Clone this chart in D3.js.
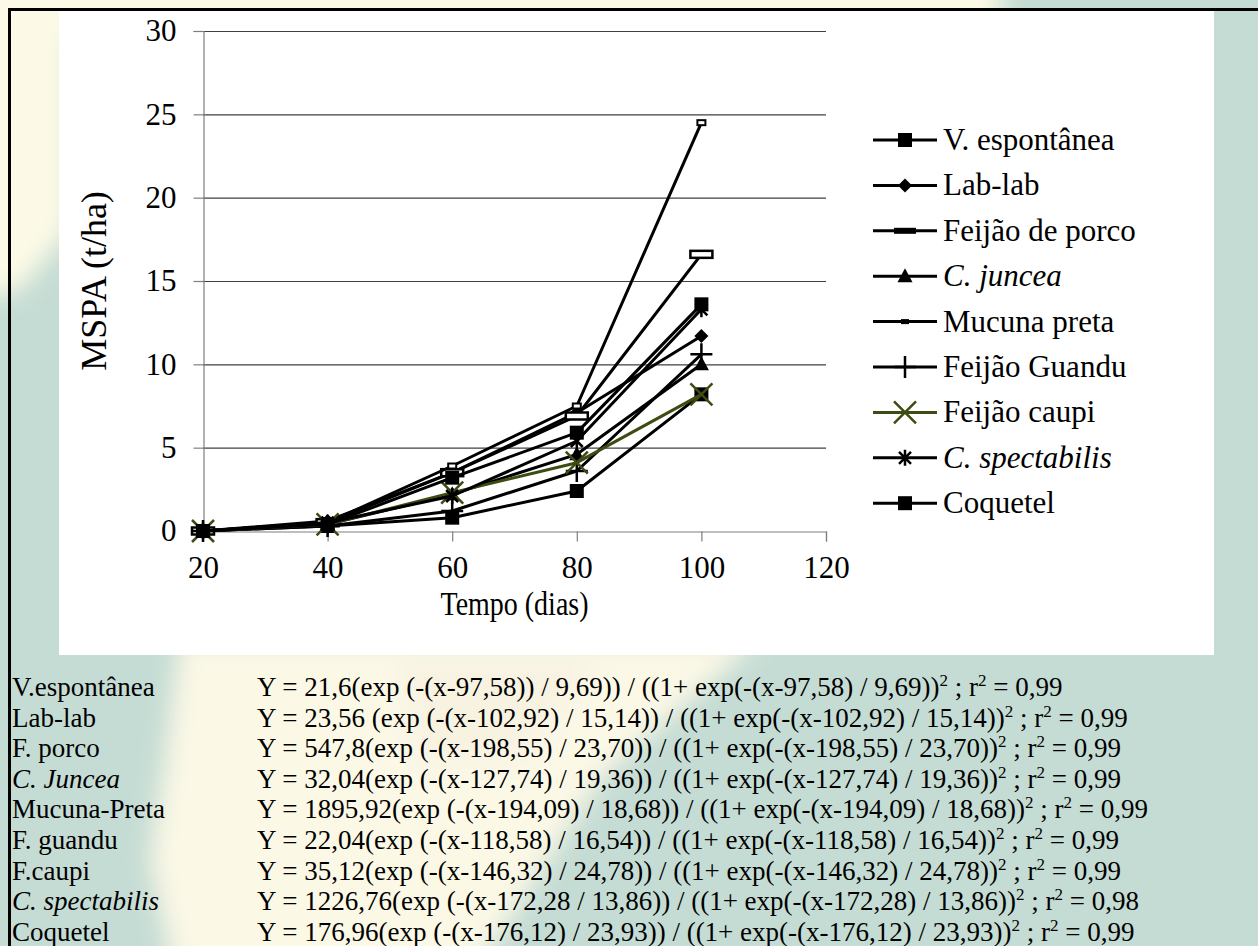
<!DOCTYPE html>
<html>
<head>
<meta charset="utf-8">
<title>MSPA</title>
<script src="https://cdn.jsdelivr.net/npm/d3@7"></script>
<style>
    body { margin: 0; }
    svg text { font-family: "Liberation Serif", "Times New Roman", serif; fill: #000; }
</style>
</head>
<body>
<svg id="chart" width="1258" height="946"></svg>
<script>
// days after sowing
const dias = [20, 40, 60, 80, 100];

// MSPA (t/ha)
const vEspontanea   = [0, 0.3, 0.8, 2.4, 8.2];
const labLab        = [0, 0.6, 3.5, 7.1, 11.7];
const feijaoPorco   = [0, 0.5, 3.5, 6.9, 16.6];
const cJuncea       = [0, 0.4, 2.2, 4.6, 10.0];
const mucunaPreta   = [0, 0.5, 3.9, 7.5, 24.5];
const feijaoGuandu  = [0, 0.3, 1.2, 3.6, 10.6];
const feijaoCaupi   = [0, 0.4, 2.3, 4.1, 8.2];
const cSpectabilis  = [0, 0.5, 2.1, 5.4, 13.3];
const coquetel      = [0, 0.4, 3.2, 5.9, 13.6];

const seriesNames = ["V. espontânea", "Lab-lab", "Feijão de porco", "C. juncea", "Mucuna preta",
    "Feijão Guandu", "Feijão caupi", "C. spectabilis", "Coquetel"];

const xTicks = [20, 40, 60, 80, 100, 120];
const yTicks = [0, 5, 10, 15, 20, 25, 30];

const eqLabels = ["V.espontânea", "Lab-lab", "F. porco", "C. Juncea", "Mucuna-Preta",
    "F. guandu", "F.caupi", "C. spectabilis", "Coquetel"];
const eqTexts = [
    "Y = 21,6(exp (-(x-97,58)) / 9,69)) / ((1+ exp(-(x-97,58) / 9,69))² ; r² = 0,99",
    "Y = 23,56 (exp (-(x-102,92) / 15,14)) / ((1+ exp(-(x-102,92) / 15,14))² ; r² = 0,99",
    "Y = 547,8(exp (-(x-198,55) / 23,70)) / ((1+ exp(-(x-198,55) / 23,70))² ; r² = 0,99",
    "Y = 32,04(exp (-(x-127,74) / 19,36)) / ((1+ exp(-(x-127,74) / 19,36))² ; r² = 0,99",
    "Y = 1895,92(exp (-(x-194,09) / 18,68)) / ((1+ exp(-(x-194,09) / 18,68))² ; r² = 0,99",
    "Y = 22,04(exp (-(x-118,58) / 16,54)) / ((1+ exp(-(x-118,58) / 16,54))² ; r² = 0,99",
    "Y = 35,12(exp (-(x-146,32) / 24,78)) / ((1+ exp(-(x-146,32) / 24,78))² ; r² = 0,99",
    "Y = 1226,76(exp (-(x-172,28 / 13,86)) / ((1+ exp(-(x-172,28) / 13,86))² ; r² = 0,98",
    "Y = 176,96(exp (-(x-176,12) / 23,93)) / ((1+ exp(-(x-176,12) / 23,93))² ; r² = 0,99"
];

const seriesValues = [vEspontanea, labLab, feijaoPorco, cJuncea, mucunaPreta,
    feijaoGuandu, feijaoCaupi, cSpectabilis, coquetel];
const markerTypes = ["square", "diamond", "openrect", "triangle", "dash", "plus", "cross", "star", "square"];
const italicNames = ["C. juncea", "C. spectabilis", "C. Juncea"];

const serif = "'Liberation Serif','Times New Roman',serif";
const svg = d3.select("#chart");

// --- background (watercolour map behind the slide) ---
const defs = svg.append("defs");
defs.append("filter").attr("id", "soft").attr("x", "-20%").attr("y", "-20%").attr("width", "140%").attr("height", "140%")
    .append("feGaussianBlur").attr("stdDeviation", 12);
svg.append("rect").attr("width", 1258).attr("height", 946).attr("fill", "#c5dcd4");
const bg = svg.append("g").attr("filter", "url(#soft)");
bg.append("path").attr("fill", "#fcfae6")
    .attr("d", "M-30,-30L1000,-30L1000,40L70,40L70,230L20,290L-30,300Z");
bg.append("path").attr("fill", "#fbf8e6")
    .attr("d", "M180,640L760,640L690,700L600,780L470,980L175,980L150,860L165,760Z");
bg.append("path").attr("fill", "#f6eede").attr("opacity", 0.6)
    .attr("d", "M400,660L600,660L520,760L420,760Z");

// black frame and white chart area
svg.append("rect").attr("x", 59).attr("y", 10).attr("width", 1155).attr("height", 645).attr("fill", "#fff");
svg.append("path").attr("d", "M9.5,960L9.5,9.5L1270,9.5").attr("fill", "none")
    .attr("stroke", "#000").attr("stroke-width", 3);

// --- scales ---
const x = d3.scaleLinear().domain([20, 120]).range([203, 826]);
const y = d3.scaleLinear().domain([0, 30]).range([531, 31]);

// gridlines
svg.append("g")
    .selectAll("line")
    .data(yTicks.filter(d => d > 0))
    .enter().append("line")
    .attr("x1", x(20)).attr("x2", x(120))
    .attr("y1", d => y(d) + 0.5).attr("y2", d => y(d) + 0.5)
    .attr("stroke", "#404040").attr("stroke-width", 1.2);

// axes
const yAxis = svg.append("g")
    .attr("transform", "translate(" + (x(20) + 0.5) + ",0)")
    .call(d3.axisLeft(y).tickValues(yTicks).tickSize(10).tickPadding(17).tickFormat(d3.format("d")));
const xAxis = svg.append("g")
    .attr("transform", "translate(0," + (y(0) + 0.5) + ")")
    .call(d3.axisBottom(x).tickValues(xTicks).tickSize(10).tickPadding(14).tickFormat(d3.format("d")));
[yAxis, xAxis].forEach(a => {
    a.attr("font-family", serif);
    a.select(".domain").attr("stroke", "#7f7f7f").attr("stroke-width", 1.2);
    a.selectAll(".tick line").attr("stroke", "#7f7f7f").attr("stroke-width", 1.2);
    a.selectAll(".tick text").style("font-family", serif)
        .style("font-size", "31px").attr("fill", "#000");
});

// axis titles
svg.append("text")
    .attr("transform", "translate(106," + (y(15)) + ") rotate(-90)")
    .attr("text-anchor", "middle")
    .style("font-size", "36px")
    .text("MSPA (t/ha)");
svg.append("text")
    .attr("transform", "translate(" + x(70) + ",615) scale(1,1.2)")
    .attr("text-anchor", "middle")
    .style("font-size", "28px")
    .text("Tempo (dias)");

// --- markers ---
function drawMarker(g, type, cx, cy, color, legend) {
    const m = g.append("g").attr("transform", "translate(" + cx + "," + cy + ")");
    if (type === "square") {
        m.append("rect").attr("x", -7).attr("y", -7).attr("width", 14).attr("height", 14).attr("fill", "#000");
    } else if (type === "diamond") {
        m.append("path").attr("d", "M0,-7L7,0L0,7L-7,0Z").attr("fill", "#000");
    } else if (type === "triangle") {
        m.append("path").attr("d", "M0,-8L7.5,6L-7.5,6Z").attr("fill", "#000");
    } else if (type === "openrect") {
        if (legend) {
            m.append("rect").attr("x", -11).attr("y", -3).attr("width", 22).attr("height", 6).attr("fill", "#000");
        } else {
            m.append("rect").attr("x", -11).attr("y", -3.5).attr("width", 22).attr("height", 7)
                .attr("fill", "#fff").attr("stroke", "#000").attr("stroke-width", 2.5);
        }
    } else if (type === "dash") {
        if (legend) {
            m.append("rect").attr("x", -4).attr("y", -2.5).attr("width", 8).attr("height", 5).attr("fill", "#000");
        } else {
            m.append("rect").attr("x", -4).attr("y", -2.5).attr("width", 8).attr("height", 5)
                .attr("fill", "#fff").attr("stroke", "#000").attr("stroke-width", 2);
        }
    } else if (type === "plus") {
        m.append("path").attr("d", "M-11,0L11,0M0,-11L0,11").attr("stroke", "#000").attr("stroke-width", 2.5);
    } else if (type === "cross") {
        m.append("path").attr("d", "M-11,-11L11,11M-11,11L11,-11").attr("stroke", color).attr("stroke-width", 2.5);
    } else if (type === "star") {
        m.append("path").attr("d", "M-6,-6L6,6M-6,6L6,-6M0,-8L0,8").attr("stroke", "#000").attr("stroke-width", 2.5);
    }
}

const line = d3.line().x((d, i) => x(dias[i])).y(d => y(d));
const plot = svg.append("g");
seriesValues.forEach((vals, s) => {
    const color = markerTypes[s] === "cross" ? "#3d4c12" : "#000";
    plot.append("path").datum(vals)
        .attr("d", line)
        .attr("fill", "none")
        .attr("stroke", color)
        .attr("stroke-width", 3)
        .attr("stroke-linejoin", "round");
    vals.forEach((v, i) => drawMarker(plot, markerTypes[s], x(dias[i]), y(v), color, false));
});

// --- legend ---
const legend = svg.append("g");
seriesNames.forEach((name, s) => {
    const ly = 140 + s * 45.4;
    const color = markerTypes[s] === "cross" ? "#3d4c12" : "#000";
    legend.append("line").attr("x1", 873).attr("x2", 937).attr("y1", ly).attr("y2", ly)
        .attr("stroke", color).attr("stroke-width", 3);
    drawMarker(legend, markerTypes[s], 905, ly, color, true);
    legend.append("text").attr("x", 943).attr("y", ly + 10)
        .style("font-size", "31px")
        .style("font-style", italicNames.includes(name) ? "italic" : "normal")
        .text(name);
});

// --- fitted equations below the chart ---
const eq = svg.append("g");
eqLabels.forEach((lab, i) => {
    const ey = 696 + i * 30.6;
    eq.append("text").attr("x", 12).attr("y", ey)
        .style("font-size", "27px")
        .style("font-style", italicNames.includes(lab) ? "italic" : "normal")
        .text(lab);
    const t = eq.append("text").attr("x", 257).attr("y", ey).style("font-size", "27px");
    const parts = eqTexts[i].split("²");
    parts.forEach((p, k) => {
        t.append("tspan").attr("dy", k === 0 ? 0 : 10).text(p);
        if (k < parts.length - 1) {
            t.append("tspan").attr("dy", -10).style("font-size", "17px").text("2");
        }
    });
});
</script>
</body>
</html>
